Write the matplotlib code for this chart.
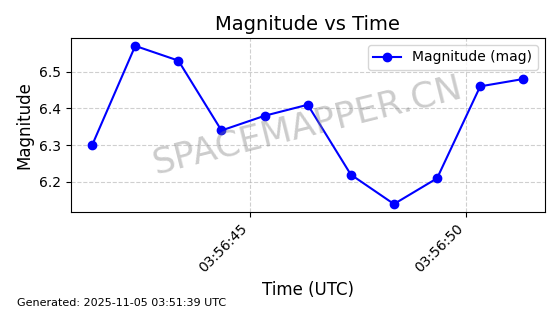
import matplotlib
matplotlib.use("Agg")
import matplotlib.pyplot as plt
import matplotlib.dates as mdates
import pandas as pd

times = ["2025-11-05 03:56:41.34", "2025-11-05 03:56:42.34", "2025-11-05 03:56:43.34",
         "2025-11-05 03:56:44.34", "2025-11-05 03:56:45.34", "2025-11-05 03:56:46.34",
         "2025-11-05 03:56:47.34", "2025-11-05 03:56:48.34", "2025-11-05 03:56:49.34",
         "2025-11-05 03:56:50.34", "2025-11-05 03:56:51.34"]
magnitude = [6.30, 6.57, 6.53, 6.34, 6.38, 6.41, 6.22, 6.14, 6.21, 6.46, 6.48]
yticks = [6.2, 6.3, 6.4, 6.5]

t = pd.to_datetime(times)

fig = plt.figure(figsize=(5.6, 3.14), dpi=100)
ax = fig.add_axes([0.126, 0.325, 0.847, 0.554])
ax.plot(t, magnitude, color="blue", marker="o", markersize=6, linewidth=1.5, label="Magnitude (mag)")
ax.set_title("Magnitude vs Time", fontsize=14)
ax.set_xlabel("Time (UTC)", fontsize=12)
ax.set_ylabel("Magnitude", fontsize=12)
ax.set_yticks(yticks)
ax.xaxis.set_major_locator(mdates.SecondLocator(bysecond=range(0, 60, 5)))
ax.xaxis.set_major_formatter(mdates.DateFormatter("%H:%M:%S"))
plt.setp(ax.get_xticklabels(), rotation=45, ha="right")
ax.grid(True, linestyle="--", alpha=0.6)
ax.legend(loc="upper right")
ax.text(0.5, 0.5, "SPACEMAPPER.CN", transform=ax.transAxes, fontsize=25.5,
        color="gray", alpha=0.4, rotation=14, ha="center", va="center")
fig.text(0.03, 0.025, "Generated: 2025-11-05 03:51:39 UTC", fontsize=8)
fig.savefig("out.png", dpi=100)
